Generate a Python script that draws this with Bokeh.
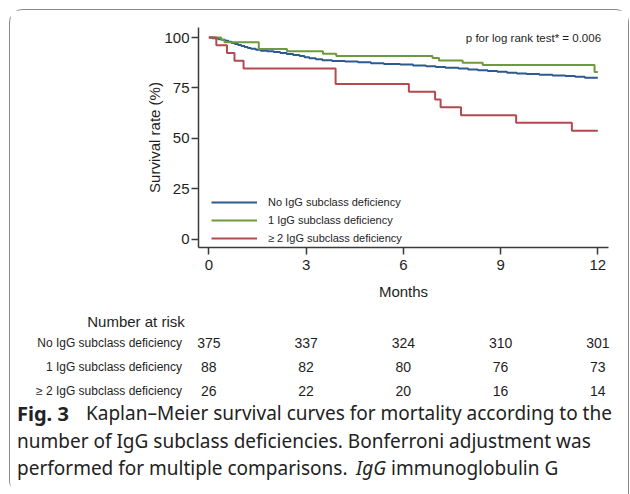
from bokeh.plotting import figure
from bokeh.layouts import column
from bokeh.models import Range1d, Legend, LegendItem, Label, FixedTicker
from bokeh.core.properties import value
from bokeh.embed import file_html
from bokeh.resources import INLINE

# ---- data ----
months_ticks = [0, 3, 6, 9, 12]
surv_ticks = [0, 25, 50, 75, 100]

group_names = ["No IgG subclass deficiency", "1 IgG subclass deficiency", "\u2265 2 IgG subclass deficiency"]

t_none = [0, 0.1, 0.2, 0.3, 0.4, 0.5, 0.6, 0.7, 0.8, 0.9, 1.0, 1.1, 1.2, 1.3, 1.45, 1.6, 1.8, 2.0, 2.2, 2.4,
          2.6, 2.8, 2.95, 3.1, 3.3, 3.5, 3.8, 4.2, 4.6, 5.0, 5.4, 5.9, 6.3, 6.7, 7.0, 7.3, 7.7, 8.0, 8.3, 8.6,
          8.9, 9.2, 9.5, 9.8, 10.2, 10.6, 11.0, 11.3, 11.6, 12.0]
s_none = [100, 99.7, 99.5, 99.2, 98.9, 98.4, 97.9, 97.3, 96.8, 96.3, 95.8, 95.3, 94.8, 94.4, 93.9, 93.5, 93.2,
          92.8, 92.3, 91.9, 91.4, 90.8, 90.2, 89.7, 89.2, 88.8, 88.4, 88.1, 87.7, 87.3, 86.9, 86.6, 86.2, 85.8,
          85.4, 85.0, 84.6, 84.2, 83.8, 83.4, 83.0, 82.6, 82.2, 81.9, 81.6, 81.2, 80.9, 80.5, 80.1, 80.1]

t_one = [0, 0.38, 0.48, 1.54, 2.41, 3.52, 3.93, 6.9, 7.1, 7.83, 8.45, 11.9, 12.0]
s_one = [100, 98.9, 97.7, 94.3, 93.2, 92.0, 90.9, 89.8, 88.6, 87.5, 86.4, 82.9, 82.9]

t_two = [0, 0.23, 0.56, 0.79, 1.07, 3.91, 6.17, 6.98, 7.15, 7.78, 9.48, 11.2, 12.0]
s_two = [100, 96.2, 92.3, 88.5, 84.6, 76.9, 73.1, 69.2, 65.4, 61.5, 57.7, 53.8, 53.8]

risk_none = [375, 337, 324, 310, 301]
risk_one = [88, 82, 80, 76, 73]
risk_two = [26, 22, 20, 16, 14]

p_text = "p for log rank test* = 0.006"
risk_title = "Number at risk"
caption_bold = "Fig. 3"
caption_1 = "Kaplan\u2013Meier survival curves for mortality according to the"
caption_2 = "number of IgG subclass deficiencies. Bonferroni adjustment was"
caption_3a = "performed for multiple comparisons."
caption_3b = "IgG"
caption_3c = "immunoglobulin G"

colors = ["#2d5a8c", "#6d9a3c", "#b34a50"]
FONT = "Liberation Sans"
TXT = "#1e1e1e"

# ---- layout constants ----
W = 618
LEFT, FRAME_W, RIGHT = 188, 410, 20
TOP, FRAME_H = 17, 220
H_TOP = 295
H_BOT = 189
X0, X1 = -0.32, 12.33
Y0, Y1 = -4.2, 105

# ---- KM figure ----
p = figure(width=W, height=H_TOP, output_backend="svg", toolbar_location=None,
           x_range=Range1d(X0, X1), y_range=Range1d(Y0, Y1),
           min_border_left=LEFT, min_border_right=RIGHT, min_border_top=TOP,
           min_border_bottom=H_TOP - TOP - FRAME_H)
p.frame_align = False
p.outline_line_color = None
p.grid.visible = False

rs = []
for t, s, c in zip([t_none, t_one, t_two], [s_none, s_one, s_two], colors):
    rs.append(p.step(t, s, mode="after", line_color=c, line_width=2))

for ax in (p.xaxis, p.yaxis):
    ax.axis_line_color = "#3a3a3a"
    ax.axis_line_width = 1.5
    ax.major_tick_line_color = "#3a3a3a"
    ax.major_tick_line_width = 1.5
    ax.major_tick_out = 7
    ax.major_tick_in = 0
    ax.minor_tick_line_color = None
    ax.major_label_text_font = FONT
    ax.major_label_text_font_size = "15px"
    ax.major_label_text_color = TXT
    ax.axis_label_text_font = FONT
    ax.axis_label_text_font_size = "15px"
    ax.axis_label_text_font_style = "normal"
    ax.axis_label_text_color = TXT

p.xaxis.ticker = FixedTicker(ticks=months_ticks)
p.yaxis.ticker = FixedTicker(ticks=surv_ticks)
p.xaxis.axis_label = "Months"
p.yaxis.axis_label = "Survival rate (%)"
p.yaxis.major_label_standoff = 2
p.yaxis.axis_label_standoff = -2
p.xaxis.major_label_standoff = 5
p.xaxis.axis_label_standoff = 10

legend = Legend(items=[LegendItem(label=n, renderers=[r]) for n, r in zip(group_names, rs)],
                location=(13, 0), orientation="vertical",
                label_text_font=FONT, label_text_font_size="11px", label_text_color=TXT,
                glyph_width=46, glyph_height=18, label_height=18, spacing=0, label_standoff=11,
                padding=0, margin=0, border_line_color=None, background_fill_alpha=0)
p.add_layout(legend)

p.add_layout(Label(x=12.1, y=100, text=p_text, text_align="right", text_baseline="middle",
                   text_font=FONT, text_font_size="11.5px", text_color=TXT))

# ---- risk table + caption figure (same horizontal scale as the KM frame) ----
k = FRAME_W / (X1 - X0)
BX0 = X0 - LEFT / k
BX1 = X1 + RIGHT / k
PAGE_TOP = 10.5 + H_TOP          # page y of this figure's top edge
q = figure(width=W, height=H_BOT, output_backend="svg", toolbar_location=None,
           x_range=Range1d(BX0, BX1), y_range=Range1d(PAGE_TOP + H_BOT, PAGE_TOP),
           min_border=0)
q.frame_align = False
q.axis.visible = False
q.grid.visible = False
q.outline_line_color = None

def px(xpage):
    return BX0 + (xpage - 10.5) / k

row_y = [343, 367, 391]
q.text(x=[px(136)], y=[321], text=[risk_title], text_align="center", text_baseline="middle",
       text_font=value(FONT), text_font_size="15px", text_color=TXT)
q.text(x=[px(182)] * 3, y=row_y, text=group_names, text_align="right", text_baseline="middle",
       text_font=value(FONT), text_font_size="12px", text_color=TXT)
for ry, vals in zip(row_y, [risk_none, risk_one, risk_two]):
    q.text(x=months_ticks, y=[ry] * len(vals), text=[str(v) for v in vals], text_align="center",
           text_baseline="middle", text_font=value(FONT), text_font_size="14px", text_color=TXT)

CF = value("Noto Sans")
CC = "#222222"
segs = [
    (caption_bold, "bold", 17, 413, "20px"),
    (caption_1, "normal", 86, 413, "19px"),
    (caption_2, "normal", 17, 441, "19px"),
    (caption_3a, "normal", 17, 468, "19px"),
    (caption_3b, "italic", 356, 468, "19px"),
    (caption_3c, "normal", 391, 468, "19px"),
]
for txt, style, xp, yp, fs in segs:
    q.text(x=[px(xp)], y=[yp], text=[txt], text_align="left", text_baseline="middle",
           text_font=CF, text_font_size=fs, text_font_style=style, text_color=CC)

lay = column(p, q, spacing=0,
             styles={"margin-left": "9px", "margin-top": "9px",
                     "border": "1.5px solid #8a8a8a", "border-bottom": "none",
                     "border-radius": "14px 14px 0 14px", "box-sizing": "content-box"})

open("out.html", "w").write(file_html(lay, INLINE))
